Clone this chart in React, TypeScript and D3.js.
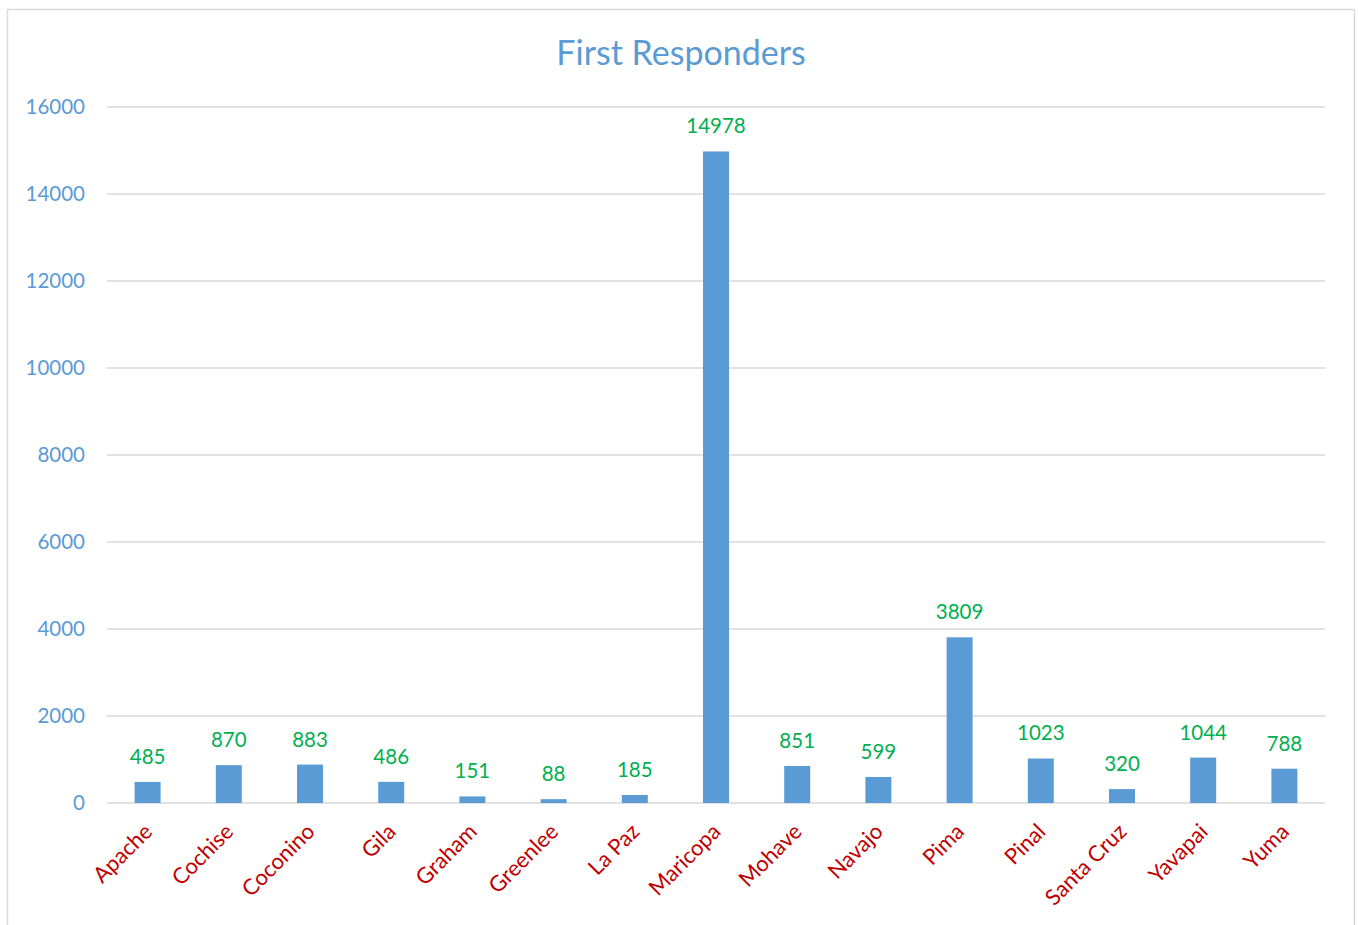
import React from "react";
import * as d3 from "d3";

const categories = ["Apache", "Cochise", "Coconino", "Gila", "Graham", "Greenlee", "La Paz", "Maricopa", "Mohave", "Navajo", "Pima", "Pinal", "Santa Cruz", "Yavapai", "Yuma"];
const values = [485, 870, 883, 486, 151, 88, 185, 14978, 851, 599, 3809, 1023, 320, 1044, 788];
const yTicks = [0, 2000, 4000, 6000, 8000, 10000, 12000, 14000, 16000];
const title = "First Responders";

const W = 1359, H = 925;
const left = 107, right = 1325, top = 107, bottom = 803;
const font = "Lato, 'Open Sans', sans-serif";

export default function App() {
  const x = d3.scaleBand<string>().domain(categories).range([left, right]).padding(0);
  const y = d3.scaleLinear().domain([0, 16000]).range([bottom, top]);
  const bw = x.bandwidth() * 0.32;
  return (
    <svg width={W} height={H} style={{ position: "absolute", left: 0, top: 0, background: "#fff" }}>
      <rect x={7.5} y={9.5} width={1347} height={930} fill="#fff" stroke="#d9d9d9" strokeWidth={1.5} />
      <text x={681} y={65} textAnchor="middle" fontFamily={font} fontSize={34} fill="#5B9BD5">{title}</text>
      {yTicks.map((t) => (
        <g key={t}>
          <line x1={left} x2={right} y1={y(t)} y2={y(t)} stroke="#d9d9d9" strokeWidth={1.5} />
          <text x={85} y={y(t) + 7} textAnchor="end" fontFamily={font} fontSize={20.5} fill="#5B9BD5">{t}</text>
        </g>
      ))}
      {categories.map((c, i) => {
        const cx = (x(c) as number) + x.bandwidth() / 2;
        return (
          <g key={c}>
            <rect x={cx - bw / 2} y={y(values[i])} width={bw} height={bottom - y(values[i])} fill="#5B9BD5" />
            <text x={cx} y={y(values[i]) - 18} textAnchor="middle" fontFamily={font} fontSize={20.5} fill="#00B050">{values[i]}</text>
            <text transform={`translate(${cx + 6},${bottom + 30}) rotate(-45)`} textAnchor="end" fontFamily={font} fontSize={22} fill="#C00000">{c}</text>
          </g>
        );
      })}
    </svg>
  );
}
